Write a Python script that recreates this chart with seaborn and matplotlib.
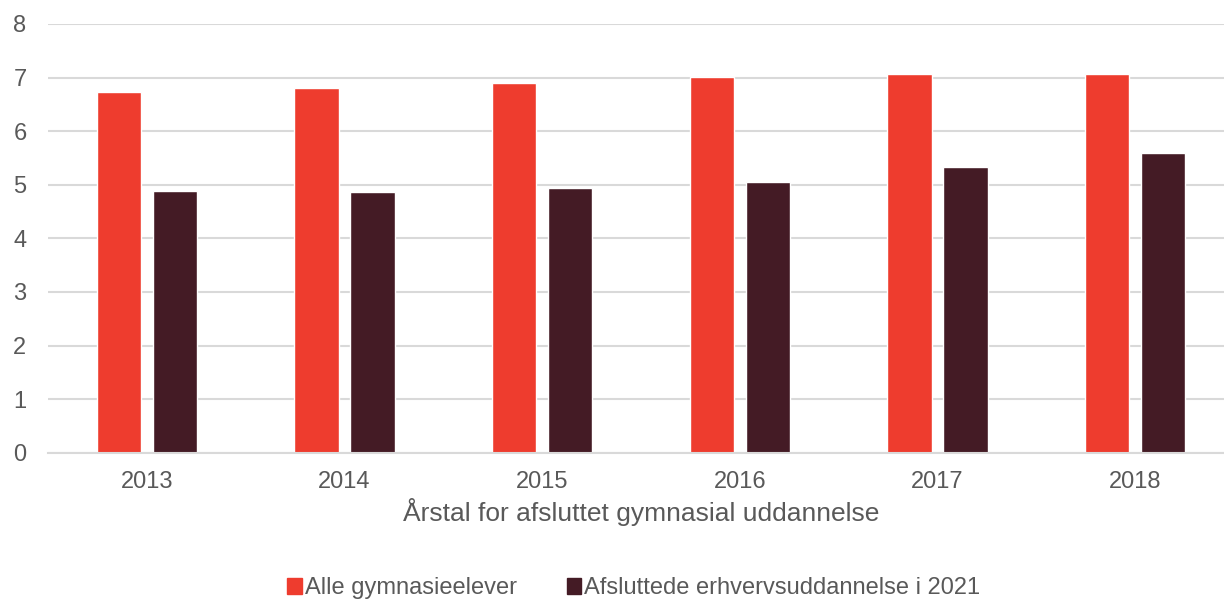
import pandas as pd
import seaborn as sns
import matplotlib.pyplot as plt

years = ['2013', '2014', '2015', '2016', '2017', '2018']
alle = [6.74, 6.81, 6.90, 7.01, 7.07, 7.07]
erhverv = [4.88, 4.87, 4.94, 5.06, 5.34, 5.59]
series_names = ['Alle gymnasieelever', 'Afsluttede erhvervsuddannelse i 2021']
colors = ['#EE3C2E', '#441B25']

df = pd.DataFrame({
    'year': years * 2,
    'value': alle + erhverv,
    'serie': [series_names[0]] * 6 + [series_names[1]] * 6,
})

sns.set_style('white')
plt.rcParams['font.family'] = ['Liberation Sans', 'DejaVu Sans']

fig = plt.figure(figsize=(12.24, 5.99), dpi=100)
ax = fig.add_axes([48 / 1224, 1 - 452.7 / 599, 1186 / 1224, 428.7 / 599])

sns.barplot(data=df, x='year', y='value', hue='serie', palette=colors,
            width=0.567, gap=0.214, saturation=1, ax=ax, legend=False)

ax.set_ylim(0, 8)
ax.set_yticks(range(0, 9))
ax.set_xlim(-0.5, 5.5)
ax.grid(axis='y', color='#d9d9d9', linewidth=1.5)
ax.set_axisbelow(True)
for s in ['top', 'right', 'left']:
    ax.spines[s].set_visible(False)
ax.spines['bottom'].set_color('#d9d9d9')
ax.spines['bottom'].set_linewidth(1.5)
ax.tick_params(axis='both', length=0, labelsize=17, colors='#595959')
ax.tick_params(axis='x', pad=13)
ax.tick_params(axis='y', pad=25)
for lbl in ax.get_yticklabels():
    lbl.set_horizontalalignment('left')
ax.set_ylabel('')
ax.set_xlabel('Årstal for afsluttet gymnasial uddannelse', fontsize=19, color='#595959', labelpad=4)

handles = [plt.Rectangle((0, 0), 1, 1, color=c) for c in colors]
fig.legend(handles, series_names, loc='lower center', bbox_to_anchor=(0.518, -0.036),
           ncol=2, frameon=False, fontsize=17, handlelength=0.6, handleheight=0.7,
           handletextpad=0.15, columnspacing=2.1, labelcolor='#595959')

fig.savefig('out.png', dpi=100)
